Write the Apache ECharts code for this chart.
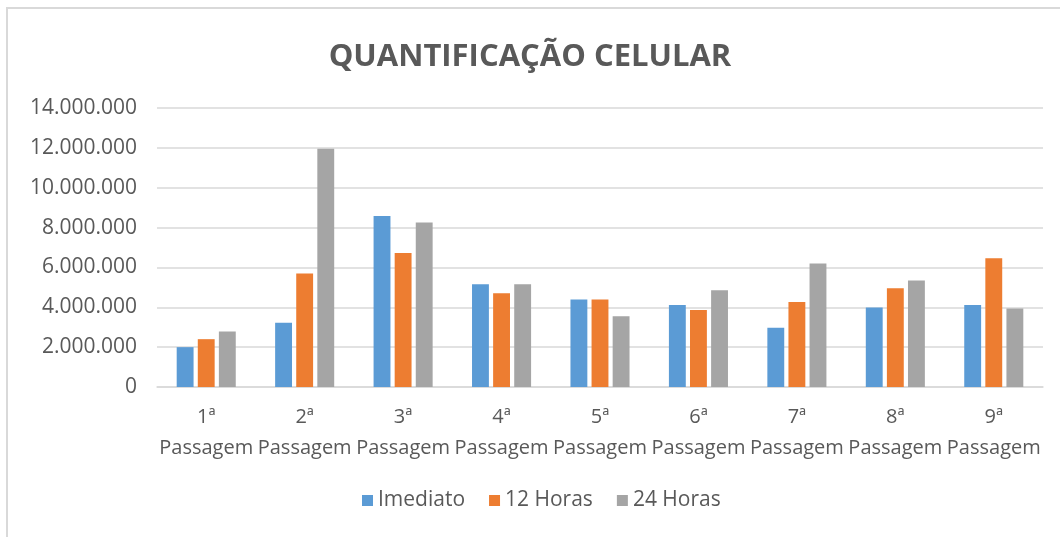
<!DOCTYPE html>
<html>
<head>
<meta charset="utf-8">
<script src="https://cdn.jsdelivr.net/npm/echarts@6/dist/echarts.min.js"></script>
<style>html,body{margin:0;padding:0;background:#fff}#c{width:1060px;height:537px}</style>
</head>
<body>
<div id="c"></div>
<script>
const categories = ['1ª Passagem','2ª Passagem','3ª Passagem','4ª Passagem','5ª Passagem','6ª Passagem','7ª Passagem','8ª Passagem','9ª Passagem'];
const imediato = [2000000, 3230000, 8580000, 5160000, 4390000, 4120000, 2970000, 3990000, 4120000];
const horas12 = [2400000, 5700000, 6720000, 4710000, 4390000, 3870000, 4260000, 4960000, 6460000];
const horas24 = [2780000, 11960000, 8260000, 5160000, 3550000, 4850000, 6200000, 5350000, 3940000];
const seriesNames = ['Imediato','12 Horas','24 Horas'];
const colors = ['#5B9BD5','#ED7D31','#A5A5A5'];

function fmt(v){
  return String(Math.round(v)).replace(/\B(?=(\d{3})+(?!\d))/g,'.');
}
const font = "'Open Sans', sans-serif";
const txt = '#595959';
const chart = echarts.init(document.getElementById('c'));
chart.setOption({
  animation:false,
  backgroundColor:'#fff',
  graphic:[{type:'rect',shape:{x:7,y:8,width:1200,height:700},style:{fill:'none',stroke:'#d9d9d9',lineWidth:2},silent:true}],
  title:{text:'QUANTIFICAÇÃO CELULAR',left:'center',top:37,textStyle:{fontFamily:font,fontWeight:'bold',fontSize:31,color:txt}},
  legend:{bottom:21,left:357,itemWidth:11,itemHeight:11,itemGap:24,icon:'rect',textStyle:{fontFamily:font,fontSize:21,color:txt},data:seriesNames},
  grid:{left:157,right:17,top:108,bottom:150},
  xAxis:{type:'category',data:categories,axisLine:{lineStyle:{color:'#d9d9d9',width:1.5}},axisTick:{show:false},
    axisLabel:{interval:0,margin:15,lineHeight:31,fontFamily:font,fontSize:20,color:txt,formatter:v=>v.replace(' ','\n')}},
  yAxis:{type:'value',min:0,max:14000000,interval:2000000,axisLine:{show:false},axisTick:{show:false},
    splitLine:{lineStyle:{color:'#d9d9d9',width:1.5}},
    axisLabel:{margin:20,fontFamily:font,fontSize:21,color:txt,formatter:fmt}},
  series:[
    {name:seriesNames[0],type:'bar',data:imediato,itemStyle:{color:colors[0]},barGap:'25%',barCategoryGap:'40%'},
    {name:seriesNames[1],type:'bar',data:horas12,itemStyle:{color:colors[1]},barGap:'25%',barCategoryGap:'40%'},
    {name:seriesNames[2],type:'bar',data:horas24,itemStyle:{color:colors[2]},barGap:'25%',barCategoryGap:'40%'}
  ]
});
</script>
</body>
</html>
